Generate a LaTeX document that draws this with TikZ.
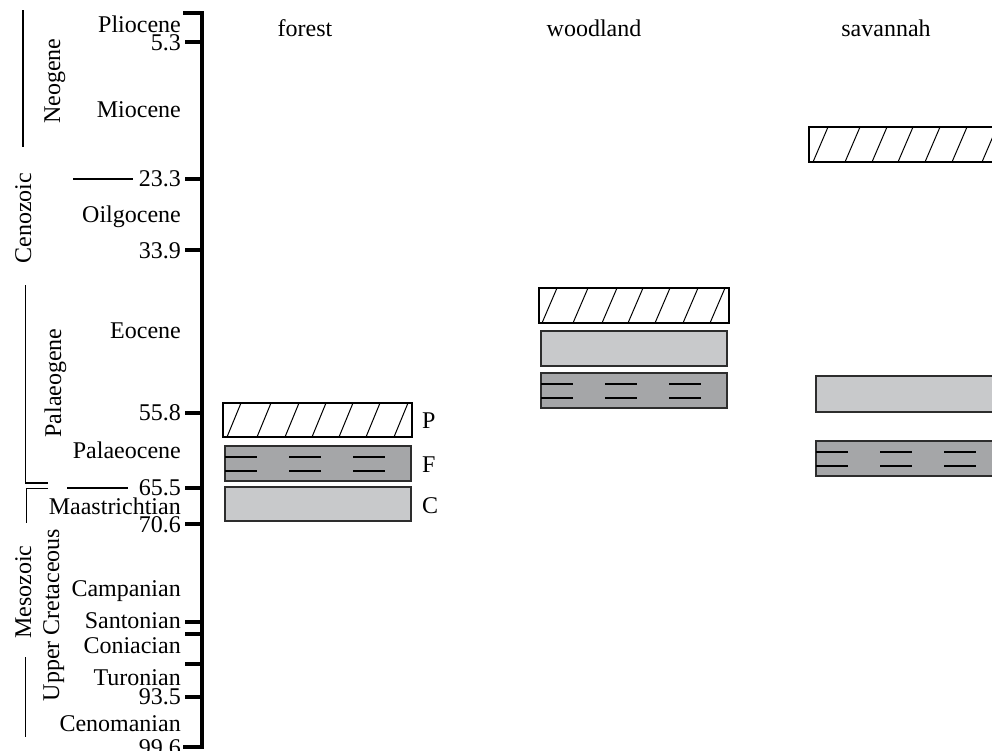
\documentclass[tikz,border=0pt]{standalone}
\usepackage{fontspec}
\setmainfont{Liberation Serif}
\definecolor{lightfill}{RGB}{200,201,203}
\definecolor{darkfill}{RGB}{165,166,168}
\definecolor{boxline}{RGB}{45,45,45}
\begin{document}
\begin{tikzpicture}[x=1pt,y=-1pt,
  lbl/.style={font=\fontsize{24}{24}\selectfont, anchor=base east, inner sep=0pt},
  hdr/.style={font=\fontsize{24}{24}\selectfont, anchor=base, inner sep=0pt},
  rot/.style={font=\fontsize{24}{24}\selectfont, anchor=base, inner sep=0pt, rotate=90},
  axisline/.style={line width=4.5pt},
  ticked/.style={line width=4pt},
  thinline/.style={line width=1.6pt},
  hatchbox/.style={draw=black, line width=1.2pt, fill=white},
  lightbox/.style={draw=boxline, line width=1.5pt, fill=lightfill},
  darkbox/.style={draw=boxline, line width=1.5pt, fill=darkfill},
  hatchline/.style={line width=1pt},
  dashthick/.style={line width=2pt},
  dashthin/.style={line width=1.1pt}]
\useasboundingbox (0,0) rectangle (992,750);

% main axis
\draw[axisline] (183,13) -- (202,13) -- (202,747) -- (183,747);
\foreach \yy in {42,179,250,413,488,524,622,634,664,697}
  \draw[ticked] (185,\yy) -- (202,\yy);

% labels
\node[lbl] (plio) at (181,32) {Pliocene};
\node[lbl] (n53) at (181,50) {5.3};
\node[lbl] (mio) at (181,117) {Miocene};
\node[lbl] (n233) at (181,186) {23.3};
\node[lbl] (oli) at (181,222) {Oilgocene};
\node[lbl] (n339) at (181,258) {33.9};
\node[lbl] (eoc) at (181,338) {Eocene};
\node[lbl] (n558) at (181,420) {55.8};
\node[lbl] (pal) at (181,458) {Palaeocene};
\node[lbl] (n655) at (181,495) {65.5};
\node[lbl] (maa) at (181,514) {Maastrichtian};
\node[lbl] (n706) at (181,532) {70.6};
\node[lbl] (cam) at (181,596) {Campanian};
\node[lbl] (san) at (181,628) {Santonian};
\node[lbl] (con) at (181,653) {Coniacian};
\node[lbl] (tur) at (181,685) {Turonian};
\node[lbl] (n935) at (181,704) {93.5};
\node[lbl] (cen) at (181,731) {Cenomanian};
\node[lbl] (n996) at (181,755) {99.6};

% divider lines
\draw[thinline] (73,179) -- (133,179);
\draw[thinline] (67,488) -- (128,488);

% brackets
\draw[thinline] (23,10) -- (23,147);
\draw[thinline] (25.5,285) -- (25.5,483) -- (48,483);
\draw[thinline] (48,488.5) -- (26.5,488.5) -- (26.5,523);
\draw[thinline] (25.5,657) -- (25.5,737);

% rotated labels
\node[rot] (neo) at (60,81) {Neogene};
\node[rot] (ceno) at (31,218) {Cenozoic};
\node[rot] (palg) at (61,383) {Palaeogene};
\node[rot] (meso) at (31,592) {Mesozoic};
\node[rot] (ucr) at (59,615) {Upper Cretaceous};

% headers
\node[hdr] (forest) at (305,36) {forest};
\node[hdr] (woodland) at (594,36) {woodland};
\node[hdr] (savannah) at (886,36) {savannah};

% ---- forest column
\draw[hatchbox] (223,403) rectangle (412,437);
\begin{scope}
  \clip (223,403) rectangle (412,437);
  \foreach \o in {4,34,62,89,116,143,171}
    \draw[hatchline] (223+\o,437) -- (223+\o+14,403);
\end{scope}
\draw[darkbox] (225,446) rectangle (411,481);
\foreach \o in {0,64,128} {
  \draw[dashthick] (225+\o,457) -- (257+\o,457);
  \draw[dashthin] (225+\o,471) -- (257+\o,471);
}
\draw[lightbox] (225,487) rectangle (411,521);
\node[font=\fontsize{24}{24}\selectfont, anchor=base west, inner sep=0pt] (P) at (422,428) {P};
\node[font=\fontsize{24}{24}\selectfont, anchor=base west, inner sep=0pt] (F) at (422,472) {F};
\node[font=\fontsize{24}{24}\selectfont, anchor=base west, inner sep=0pt] (C) at (422,513) {C};

% ---- woodland column
\draw[hatchbox] (539,288) rectangle (729,323);
\begin{scope}
  \clip (539,288) rectangle (729,323);
  \foreach \o in {3,34,63,89,116,144,171}
    \draw[hatchline] (539+\o,323) -- (539+\o+15,288);
\end{scope}
\draw[lightbox] (541,331) rectangle (727,366);
\draw[darkbox] (541,373) rectangle (727,408);
\foreach \o in {0,64,128} {
  \draw[dashthick] (541+\o,384) -- (573+\o,384);
  \draw[dashthin] (541+\o,398) -- (573+\o,398);
}

% ---- savannah column
\draw[hatchbox] (809,127) rectangle (1000,162);
\begin{scope}
  \clip (809,127) rectangle (1000,162);
  \foreach \o in {4,36,63,89,116,143,173}
    \draw[hatchline] (809+\o,162) -- (809+\o+15,127);
\end{scope}
\draw[lightbox] (816,376) rectangle (1000,412);
\draw[darkbox] (816,441) rectangle (1000,476);
\foreach \o in {0,64,128} {
  \draw[dashthick] (816+\o,452) -- (848+\o,452);
  \draw[dashthin] (816+\o,466) -- (848+\o,466);
}
\end{tikzpicture}
\end{document}
